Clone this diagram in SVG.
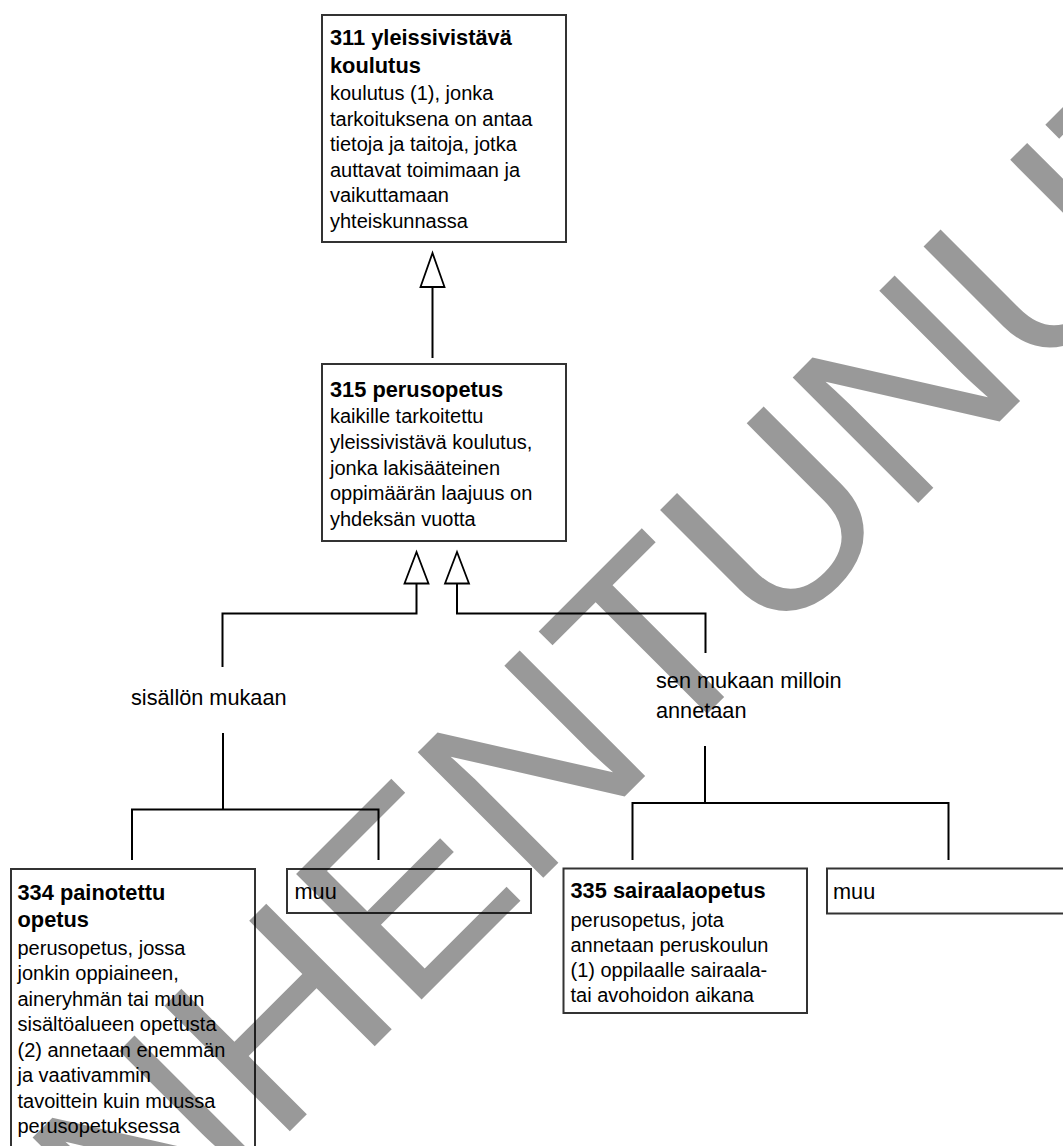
<svg xmlns="http://www.w3.org/2000/svg" width="1063" height="1146" viewBox="0 0 1063 1146">
<style>
.box{fill:#fff;stroke:#333;stroke-width:2}
.t{font-family:"Liberation Sans",Arial,sans-serif;font-size:20px;fill:#000}
.b{font-weight:bold;font-size:21.8px}
.lbl{font-family:"Liberation Sans",Arial,sans-serif;font-size:21.7px;fill:#000}
.c{fill:none;stroke:#000;stroke-width:2}
.h{fill:#fff;stroke:#000;stroke-width:1.8}
.wm{font-family:"Liberation Sans",Arial,sans-serif;font-size:258px;fill:#000;fill-opacity:0.4}
</style>
<rect width="1063" height="1146" fill="#fff"/>
<g id="n311">
<rect class="box" x="322" y="15" width="244" height="227"/>
<text class="t"><tspan class="b" x="330" y="45">311 yleissivistävä</tspan><tspan class="b" x="330" y="72.7">koulutus</tspan><tspan x="330" y="100">koulutus (1), jonka</tspan><tspan x="330" y="125.6">tarkoituksena on antaa</tspan><tspan x="330" y="151.2">tietoja ja taitoja, jotka</tspan><tspan x="330" y="176.8">auttavat toimimaan ja</tspan><tspan x="330" y="202.4">vaikuttamaan</tspan><tspan x="330" y="228">yhteiskunnassa</tspan></text>
</g>
<g id="n315">
<rect class="box" x="322" y="364" width="244" height="177"/>
<text class="t"><tspan class="b" x="330" y="396.7">315 perusopetus</tspan><tspan x="330" y="423.3">kaikille tarkoitettu</tspan><tspan x="330" y="449">yleissivistävä koulutus,</tspan><tspan x="330" y="474.7">jonka lakisääteinen</tspan><tspan x="330" y="500.4">oppimäärän laajuus on</tspan><tspan x="330" y="526.1">yhdeksän vuotta</tspan></text>
</g>
<g id="n334">
<rect class="box" x="11" y="869" width="244" height="300"/>
<text class="t"><tspan class="b" x="17.5" y="900">334 painotettu</tspan><tspan class="b" x="17.5" y="927">opetus</tspan><tspan x="17.5" y="954.5">perusopetus, jossa</tspan><tspan x="17.5" y="980">jonkin oppiaineen,</tspan><tspan x="17.5" y="1005.5">aineryhmän tai muun</tspan><tspan x="17.5" y="1031">sisältöalueen opetusta</tspan><tspan x="17.5" y="1056.5">(2) annetaan enemmän</tspan><tspan x="17.5" y="1082">ja vaativammin</tspan><tspan x="17.5" y="1107.5">tavoittein kuin muussa</tspan><tspan x="17.5" y="1133">perusopetuksessa</tspan></text>
</g>
<g id="muu1">
<rect class="box" x="287" y="869" width="244" height="44"/>
<text class="lbl" x="294.5" y="899">muu</text>
</g>
<g id="n335">
<rect class="box" x="563.5" y="868.5" width="243.5" height="144.5"/>
<text class="t"><tspan class="b" x="570.5" y="898.3">335 sairaalaopetus</tspan><tspan x="570.5" y="926.5">perusopetus, jota</tspan><tspan x="570.5" y="951.5">annetaan peruskoulun</tspan><tspan x="570.5" y="976.5">(1) oppilaalle sairaala-</tspan><tspan x="570.5" y="1001.5">tai avohoidon aikana</tspan></text>
</g>
<g id="muu2">
<rect class="box" x="827" y="868.5" width="260" height="45"/>
<text class="lbl" x="833" y="899">muu</text>
</g>
<g id="connectors">
<line class="c" x1="432.5" y1="287" x2="432.5" y2="358"/>
<polygon class="h" points="432.5,253 420.5,287 444.5,287"/>
<polyline class="c" points="416.5,583.5 416.5,613.5 222.5,613.5 222.5,667"/>
<polygon class="h" points="416.5,552 404.5,583.5 428.5,583.5"/>
<polyline class="c" points="457,583.5 457,613.5 705.5,613.5 705.5,653"/>
<polygon class="h" points="457,552 445,583.5 469,583.5"/>
<text class="lbl" x="131" y="705">sisällön mukaan</text>
<text class="lbl"><tspan x="656" y="688">sen mukaan milloin</tspan><tspan x="656" y="718">annetaan</tspan></text>
<polyline class="c" points="223,733 223,809.5"/>
<polyline class="c" points="132,860 132,809.5 378.5,809.5 378.5,860"/>
<polyline class="c" points="705,746 705,803"/>
<polyline class="c" points="632.5,860 632.5,803 948.5,803 948.5,860"/>
</g>
<text class="wm" x="0" y="0" transform="translate(-86.7,1507.8) rotate(-45)">VANHENTUNUT</text>
</svg>
